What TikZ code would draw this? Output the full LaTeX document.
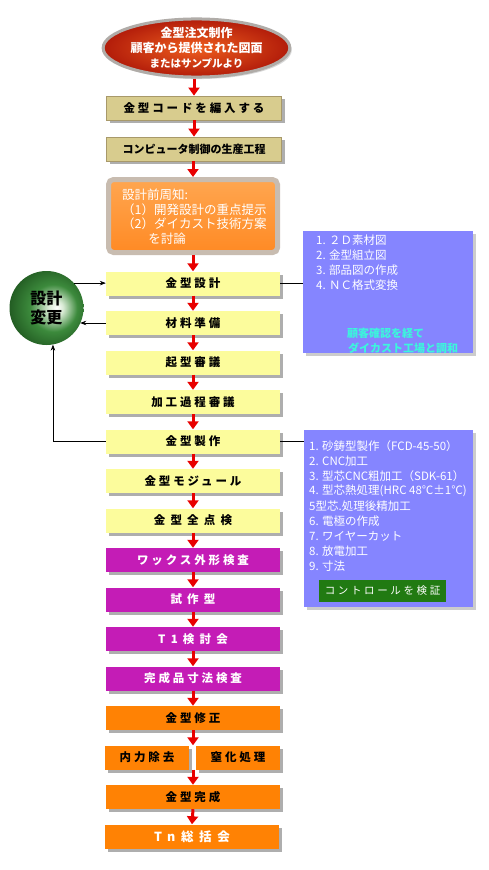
\documentclass[tikz,border=0pt]{standalone}
\usepackage{fontspec}
\setmainfont{Noto Sans CJK JP}
\newfontfamily\jp{Noto Sans CJK JP}
\newfontfamily\jpsp[LetterSpace=25]{Noto Sans CJK JP}
\newfontfamily\jpspw[LetterSpace=45]{Noto Sans CJK JP}
\usetikzlibrary{shapes.geometric,arrows.meta,shadows}
\definecolor{khaki}{HTML}{D8CC8E}
\definecolor{khakid}{HTML}{A8996A}
\definecolor{yel}{HTML}{FCFC9C}
\definecolor{mag}{HTML}{C41CB6}
\definecolor{org}{HTML}{FF8204}
\definecolor{peri}{HTML}{8585FF}
\definecolor{cyn}{HTML}{3CF5DC}
\definecolor{btn}{HTML}{217A12}
\definecolor{arr}{HTML}{E80000}
\definecolor{gd}{HTML}{1F561F}
\definecolor{gm}{HTML}{3C8A3C}
\definecolor{gl}{HTML}{D8EAD4}
\definecolor{ellin}{HTML}{EE5E1E}
\definecolor{ellout}{HTML}{B21C0A}
\definecolor{ellrim}{HTML}{B0ACA8}
\definecolor{orim}{HTML}{C8BCB0}
\definecolor{otop}{HTML}{FFA650}
\definecolor{obot}{HTML}{FF8A24}
\pgfdeclareradialshading{gball}{\pgfpoint{7bp}{0bp}}{color(0bp)=(white); color(5bp)=(gl); color(16bp)=(gm); color(30bp)=(gd); color(50bp)=(gd)}
\begin{document}
\begin{tikzpicture}[x=1pt,y=-1pt,
 box/.style={rectangle, minimum width=174pt, minimum height=24pt, inner sep=0pt,
   drop shadow={shadow xshift=3pt,shadow yshift=-3pt,opacity=0.45,fill=black!70},
   font=\jpsp\bfseries\fontsize{11.5}{13}\selectfont},
 ybox/.style={box, fill=yel, text=black},
 mbox/.style={box, fill=mag, text=white},
 obox/.style={box, fill=org, text=black},
 kbox/.style={box, fill=khaki, draw=khakid, line width=0.8pt, text=black, minimum width=175pt},
 rarr/.style={draw=arr, line width=3pt, -{Triangle[width=11pt,length=8pt]}},
 karr/.style={draw=black, line width=0.7pt},
 ptext/.style={anchor=west, text=white, inner sep=0pt, font=\jp\fontsize{11.5}{13}\selectfont},
]
\useasboundingbox (0,0) rectangle (488,870);
\fill[white] (0,0) rectangle (488,870);

% top ellipse
\node[ellipse, minimum width=170pt, minimum height=54pt, draw=ellrim, line width=3pt,
  shading=radial, inner color=ellin, outer color=ellout, text=white, align=center, inner sep=0pt,
  drop shadow={shadow xshift=2pt,shadow yshift=-2pt,opacity=0.3},
  font=\jp\bfseries\fontsize{12}{15}\selectfont] (ell) at (196.5,48)
  {金型注文制作\\顧客から提供された図面\\{\fontsize{10.5}{14}\selectfont またはサンプルより}};

\node[kbox] (code) at (194,108) {金型コードを編入する};
\node[kbox, font=\jp\bfseries\fontsize{11}{13}\selectfont] (comp) at (194,149) {コンピュータ制御の生産工程};
\node[rectangle, rounded corners=5pt, minimum width=169pt, minimum height=73pt, draw=orim, line width=5pt,
  top color=otop, bottom color=obot,
  drop shadow={shadow xshift=2pt,shadow yshift=-2pt,opacity=0.3}] (pre) at (193,216) {};
\node[anchor=north west, text=white, align=left, inner sep=0pt,
  font=\jp\fontsize{12.5}{14.5}\selectfont] (pretxt) at (122,189)
  {設計前周知:\\（1）開発設計の重点提示\\（2）ダイカスト技術方案\\\hspace*{2.1em}を討論};

\node[ybox] (sj) at (193,283.5) {金型設計};
\node[ybox] (cl) at (193,323) {材料準備};
\node[ybox] (qx) at (193,362.5) {起型審議};
\node[ybox] (jg) at (193,402) {加工過程審議};
\node[ybox] (zz) at (193,441.5) {金型製作};
\node[ybox] (mj) at (193,481) {金型モジュール};
\node[ybox, font=\jpspw\bfseries\fontsize{11.5}{13}\selectfont] (qd) at (193,520.5) {金型全点検};
\node[mbox] (wx) at (193,560) {ワックス外形検査};
\node[mbox, font=\jpspw\bfseries\fontsize{11.5}{13}\selectfont] (sz) at (193,599.5) {試作型};
\node[mbox, font=\jpspw\bfseries\fontsize{11.5}{13}\selectfont] (t1) at (193,639) {T1検討会};
\node[mbox] (wc) at (193,678.5) {完成品寸法検査};
\node[obox] (xz) at (193,718) {金型修正};
\node[obox, minimum width=84pt] (nl) at (147,757.5) {内力除去};
\node[obox, minimum width=84pt] (dh) at (238,757.5) {窒化処理};
\node[obox] (wch) at (193,797) {金型完成};
\node[obox, text=white, font=\jpspw\bfseries\fontsize{12.5}{14}\selectfont] (tn) at (192,836.5) {Tn総括会};

% red arrows
\draw[rarr] (ell.south -| code.north) -- (code.north);
\draw[rarr] (code.south) -- (comp.north);
\draw[rarr] (comp.south -| pre.north) -- (pre.north);
\draw[rarr] (pre.south) -- (sj.north);
\draw[rarr] (sj) -- (cl);
\draw[rarr] (cl.south) -- (qx.north);
\draw[rarr] (qx.south) -- (jg.north);
\draw[rarr] (jg.south) -- (zz.north);
\draw[rarr] (zz.south) -- (mj.north);
\draw[rarr] (mj.south) -- (qd.north);
\draw[rarr] (qd.south) -- (wx.north);
\draw[rarr] (wx.south) -- (sz.north);
\draw[rarr] (sz.south) -- (t1.north);
\draw[rarr] (t1.south) -- (wc.north);
\draw[rarr] (wc.south) -- (xz.north);
\draw[rarr] (xz.south) -- (xz.south |- nl.north);
\draw[rarr] (wch.north |- nl.south) -- (wch.north);
\draw[rarr] (wch.south) -- (tn.north);

% design change circle
\node[circle, minimum size=74pt, shading=gball, inner sep=0pt, align=center,
  font=\jp\bfseries\fontsize{16}{19.5}\selectfont] (circ) at (46.5,308) {設計\\変更};
\draw[karr, -{Stealth[length=6pt,width=4.5pt]}] (circ.42) -- (circ.42 -| sj.west);
\draw[karr, -{Stealth[length=6pt,width=4.5pt]}] (cl.west) -- (circ.-25 |- cl.west);
\draw[karr, -{Stealth[length=6pt,width=4.5pt]}] (zz.west) -| (circ.-80);

% right panel 1
\node[rectangle, minimum width=170pt, minimum height=122pt, fill=peri, inner sep=0pt,
  drop shadow={shadow xshift=3pt,shadow yshift=-3pt,opacity=0.4}] (p1) at (388,292) {};
\draw[karr] (sj.east) -- (sj.east -| p1.west);
\node[ptext] (p1a) at (316,240) {1. ２Ｄ素材図};
\node[ptext] (p1b) at (316,255.5) {2. 金型組立図};
\node[ptext] (p1c) at (316,270.5) {3. 部品図の作成};
\node[ptext] (p1d) at (316,285) {4. ＮＣ格式変換};
\node[ptext, text=cyn, font=\jp\bfseries\fontsize{11}{13}\selectfont] (p1e) at (347,333) {顧客確認を経て};
\node[ptext, text=cyn, font=\jp\bfseries\fontsize{11}{13}\selectfont] (p1f) at (348,348) {ダイカスト工場と調和};

% right panel 2
\node[rectangle, minimum width=169pt, minimum height=177pt, fill=peri, inner sep=0pt,
  drop shadow={shadow xshift=3pt,shadow yshift=-3pt,opacity=0.4}] (p2) at (388.5,518.5) {};
\draw[karr] (zz.east) -- (zz.east -| p2.west);
\node[ptext] (p2a) at (309,446) {1. 砂鋳型製作（FCD-45-50）};
\node[ptext] (p2b) at (309,461) {2. CNC加工};
\node[ptext] (p2c) at (309,476) {3. 型芯CNC粗加工（SDK-61）};
\node[ptext] (p2d) at (309,491) {4. 型芯熱処理(HRC 48℃±1℃)};
\node[ptext] (p2e) at (309,506) {5型芯.処理後精加工};
\node[ptext] (p2f) at (309,521) {6. 電極の作成};
\node[ptext] (p2g) at (309,536) {7. ワイヤーカット};
\node[ptext] (p2h) at (309,551) {8. 放電加工};
\node[ptext] (p2i) at (309,566) {9. 寸法};
\node[rectangle, minimum width=127pt, minimum height=22pt, fill=btn, text=white, inner sep=0pt,
  font=\jpsp\fontsize{10.5}{12}\selectfont] (btn) at (382.5,591) {コントロールを検証};
\end{tikzpicture}
\end{document}
